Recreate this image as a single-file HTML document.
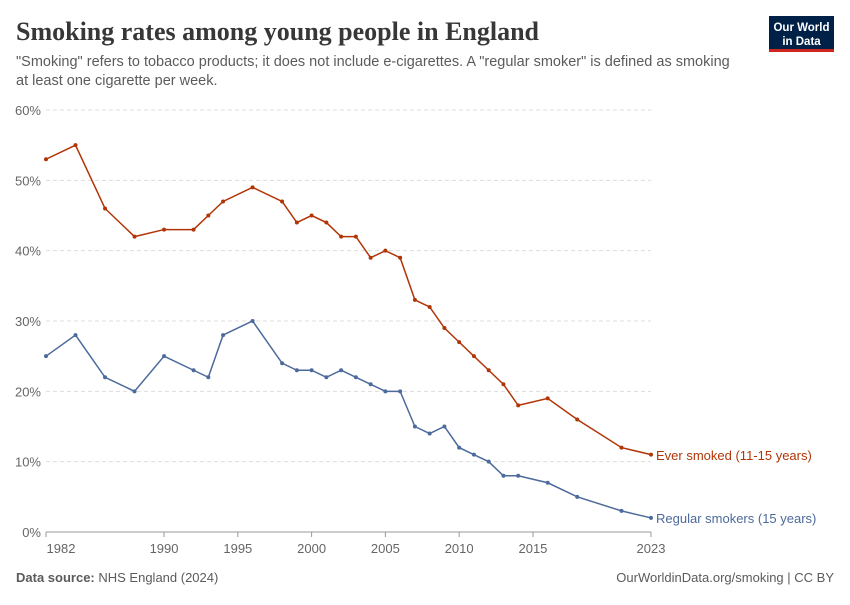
<!DOCTYPE html>
<html><head><meta charset="utf-8"><style>
body{margin:0;background:#fff;font-family:"Liberation Sans",sans-serif;}
</style></head><body>
<svg width="850" height="600" xmlns="http://www.w3.org/2000/svg" id="s">
<rect width="850" height="600" fill="#fff"/>
<text x="16" y="40" font-family="Liberation Serif,serif" font-size="26" font-weight="bold" fill="#373737">Smoking rates among young people in England</text>
<text x="16" y="66" font-size="14.5" fill="#5b5b5b">"Smoking" refers to tobacco products; it does not include e-cigarettes. A "regular smoker" is defined as smoking</text>
<text x="16" y="85" font-size="14.5" fill="#5b5b5b">at least one cigarette per week.</text>
<rect x="769" y="16" width="65" height="36" fill="#002147"/>
<rect x="769" y="49" width="65" height="3" fill="#ce261e"/>
<text x="801.5" y="31" font-size="11.5" font-weight="bold" fill="#fff" text-anchor="middle">Our World</text>
<text x="801.5" y="45" font-size="11.5" font-weight="bold" fill="#fff" text-anchor="middle">in Data</text>
<g id="grid"></g>
<g id="plot"></g>
<text x="16" y="582" font-size="13" fill="#5b5b5b"><tspan font-weight="bold">Data source:</tspan> NHS England (2024)</text>
<text x="834" y="582" font-size="13" fill="#5b5b5b" text-anchor="end">OurWorldinData.org/smoking | CC BY</text>
</svg>
<script>
var NS="http://www.w3.org/2000/svg";
function el(p,t,a,txt){var e=document.createElementNS(NS,t);for(var k in a)e.setAttribute(k,a[k]);if(txt!=null)e.textContent=txt;document.getElementById(p).appendChild(e);return e;}
function X(y){return 46+(y-1982)*605/41;}
function Y(v){return 532-v*7.033;}
for(var i=0;i<=6;i++){var y=Y(i*10);
if(i>0)el("grid","line",{x1:46,x2:651,y1:y,y2:y,stroke:"#ddd","stroke-dasharray":"4,3"});
el("grid","text",{x:41,y:y+5,"font-size":13,fill:"#666","text-anchor":"end"},i*10+"%");}
el("grid","line",{x1:46,x2:651,y1:532,y2:532,stroke:"#999"});
[1982,1990,1995,2000,2005,2010,2015,2023].forEach(function(yr){var x=X(yr);
el("grid","line",{x1:x,x2:x,y1:532,y2:537,stroke:"#999"});
el("grid","text",{x:yr==1982?x+15:x,y:553,"font-size":13,fill:"#666","text-anchor":"middle"},yr);});
var yrs=[1982,1984,1986,1988,1990,1992,1993,1994,1996,1998,1999,2000,2001,2002,2003,2004,2005,2006,2007,2008,2009,2010,2011,2012,2013,2014,2016,2018,2021,2023];
var ev=[53,55,46,42,43,43,45,47,49,47,44,45,44,42,42,39,40,39,33,32,29,27,25,23,21,18,19,16,12,11];
var rg=[25,28,22,20,25,23,22,28,30,24,23,23,22,23,22,21,20,20,15,14,15,12,11,10,8,8,7,5,3,2];
function series(d,c){var p=yrs.map(function(y,i){return X(y)+","+Y(d[i]);}).join(" ");
el("plot","polyline",{points:p,fill:"none",stroke:c,"stroke-width":1.5});
yrs.forEach(function(y,i){el("plot","circle",{cx:X(y),cy:Y(d[i]),r:2,fill:c});});}
series(ev,"#b13507");series(rg,"#4c6a9c");
el("plot","text",{x:656,y:460,"font-size":13,fill:"#b13507"},"Ever smoked (11-15 years)");
el("plot","text",{x:656,y:523,"font-size":13,fill:"#4c6a9c"},"Regular smokers (15 years)");
</script>
</body></html>
